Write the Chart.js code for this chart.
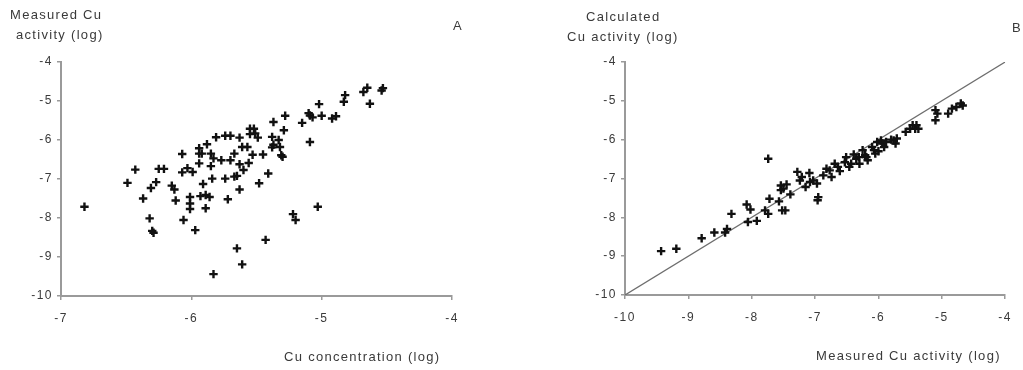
<!DOCTYPE html>
<html>
<head>
<meta charset="utf-8">
<script src="https://cdn.jsdelivr.net/npm/chart.js@4.4.1/dist/chart.umd.min.js"></script>
<style>
  body { margin: 0; background: #fff; width: 1023px; height: 370px; position: relative; overflow: hidden; }
  .panel { position: absolute; top: 0; height: 370px; }
  .lbl { position: absolute; font-family: "Liberation Sans", Arial, sans-serif; font-size: 13px; color: #3a3a3a; letter-spacing: 1.3px; white-space: nowrap; line-height: 1; }
</style>
</head>
<body>
<div class="panel" style="left:0; width:480px;"><canvas id="chartA" width="480" height="370"></canvas></div>
<div class="panel" style="left:520px; width:503px;"><canvas id="chartB" width="503" height="370"></canvas></div>

<div class="lbl" style="left:10px; top:8px;">Measured Cu</div>
<div class="lbl" style="left:16px; top:28px;">activity (log)</div>
<div class="lbl" style="left:453px; top:19px;">A</div>
<div class="lbl" style="left:284px; top:350px;">Cu concentration (log)</div>

<div class="lbl" style="left:586px; top:10px;">Calculated</div>
<div class="lbl" style="left:567px; top:30px;">Cu activity (log)</div>
<div class="lbl" style="left:1012px; top:21px;">B</div>
<div class="lbl" style="left:816px; top:349px;">Measured Cu activity (log)</div>

<script>
// Panel A: Cu concentration (log) vs measured Cu activity (log)
const concA = [
  -6.82, -6.49, -6.43, -6.37, -6.32, -6.30, -6.29, -6.31, -6.27, -6.25,
  -6.21, -6.15, -6.13, -6.12, -6.07, -6.07, -6.06, -6.03, -6.01, -6.01,
  -6.01, -5.99, -5.97, -5.94, -5.94, -5.92, -5.94, -5.93, -5.89, -5.91,
  -5.89, -5.88, -5.86, -5.85, -5.85, -5.83, -5.84, -5.83, -5.81, -5.77,
  -5.74, -5.74, -5.70, -5.72, -5.70, -5.67, -5.67, -5.65, -5.65, -5.63,
  -5.63, -5.63, -5.61, -5.61, -5.60, -5.57, -5.56, -5.55, -5.52, -5.55,
  -5.51, -5.53, -5.49, -5.48, -5.45, -5.43, -5.41, -5.38, -5.37, -5.37,
  -5.38, -5.33, -5.32, -5.31, -5.30, -5.29, -5.28, -5.22, -5.20, -5.15,
  -5.10, -5.09, -5.07, -5.09, -5.03, -5.02, -5.00, -4.92, -4.89, -4.83,
  -4.82, -4.68, -4.65, -4.63, -4.54, -4.53
];
const actA = [
  -7.71, -7.10, -6.76, -7.50, -8.01, -8.33, -8.38, -7.23, -7.08, -6.74,
  -6.74, -7.17, -7.27, -7.55, -6.36, -6.83, -8.05, -6.72, -7.46, -7.63,
  -7.77, -6.82, -8.31, -6.21, -6.35, -6.35, -6.60, -7.44, -7.41, -7.13,
  -7.75, -6.11, -7.46, -6.67, -6.35, -6.47, -6.99, -9.44, -5.93, -6.52,
  -6.99, -5.89, -5.89, -7.52, -6.52, -6.35, -6.94, -6.92, -8.78, -5.94,
  -6.62, -7.27, -6.18, -9.19, -6.77, -6.18, -6.59, -5.71, -5.71, -5.85,
  -5.83, -6.38, -5.94, -7.11, -6.37, -8.56, -6.86, -6.19, -6.12, -5.54,
  -5.92, -6.00, -6.18, -6.39, -6.43, -5.75, -5.38, -7.90, -8.05, -5.56,
  -5.31, -5.37, -5.42, -6.05, -7.71, -5.08, -5.38, -5.45, -5.39, -5.02,
  -4.85, -4.77, -4.66, -5.07, -4.73, -4.67
];

// Panel B: measured vs calculated Cu activity (log), with the 1:1 line
const measB = [
  -9.43, -9.19, -8.79, -8.59, -8.42, -8.39, -8.32, -8.08, -8.06, -8.02,
  -7.92, -7.79, -7.74, -7.72, -7.74, -7.57, -7.54, -7.54, -7.52, -7.47,
  -7.45, -7.39, -7.28, -7.24, -7.21, -7.15, -7.09, -7.08, -7.03, -6.97,
  -6.96, -6.95, -6.87, -6.82, -6.77, -6.74, -6.69, -6.64, -6.61, -6.53,
  -6.51, -6.46, -6.43, -6.39, -6.35, -6.31, -6.25, -6.21, -6.19, -6.17,
  -6.10, -6.07, -6.05, -6.02, -5.96, -5.94, -5.91, -5.88, -5.76, -5.73,
  -5.71, -5.57, -5.50, -5.46, -5.42, -5.40, -5.37, -5.10, -5.07, -5.10,
  -4.90, -4.84, -4.77, -4.70, -4.67, -7.50, -6.30, -6.00, -5.80
];
const calcB = [
  -8.87, -8.81, -8.54, -8.39, -8.39, -8.30, -7.91, -7.67, -8.12, -7.80,
  -8.09, -7.82, -6.49, -7.52, -7.91, -7.59, -7.30, -7.18, -7.82, -7.82,
  -7.15, -7.41, -6.83, -7.05, -6.96, -7.22, -6.86, -7.09, -7.05, -7.13,
  -7.56, -7.48, -6.92, -6.75, -6.79, -6.96, -6.62, -6.70, -6.81, -6.58,
  -6.45, -6.70, -6.62, -6.38, -6.49, -6.45, -6.27, -6.40, -6.45, -6.53,
  -6.19, -6.27, -6.36, -6.06, -6.02, -6.10, -6.19, -6.06, -6.02, -6.10,
  -5.97, -5.80, -5.72, -5.63, -5.72, -5.63, -5.72, -5.24, -5.33, -5.50,
  -5.33, -5.20, -5.16, -5.07, -5.12, -7.26, -6.62, -6.30, -6.00
];
const lineX = [-10, -4];
const lineY = [-10, -4];

const ticksA_x = [-7, -4];
const ticksA_y = [-10, -4];
const ticksB = [-10, -4];

const axisGrey = '#9a9a9a';
const tickFont = { family: '"Liberation Sans", Arial, sans-serif', size: 12 };

// widen tick label spacing a little (canvas letterSpacing)
const spacedText = {
  id: 'spacedText',
  beforeUpdate(chart) { chart.ctx.letterSpacing = '1.5px'; },
  beforeDraw(chart) { chart.ctx.letterSpacing = '1.5px'; }
};

function toPoints(xs, ys) {
  return xs.map((x, i) => ({ x: x, y: ys[i] }));
}

function axis(range, fixedSize, isX) {
  return {
    type: 'linear',
    min: range[0],
    max: range[1],
    border: { color: axisGrey, width: 2 },
    grid: { drawOnChartArea: false, color: axisGrey, lineWidth: 1.5, tickLength: 4 },
    ticks: {
      stepSize: 1,
      color: '#3a3a3a',
      font: tickFont,
      padding: isX ? 11 : 4,
      maxRotation: 0,
      autoSkip: false
    },
    afterFit: function(scale) {
      if (isX) scale.height = fixedSize; else scale.width = fixedSize;
    }
  };
}

const scatterStyle = {
  pointStyle: 'cross',
  pointRadius: 4.2,
  pointBorderWidth: 2.4,
  borderColor: '#111',
  backgroundColor: '#111',
  showLine: false
};

new Chart(document.getElementById('chartA'), {
  type: 'scatter',
  data: {
    datasets: [Object.assign({ data: toPoints(concA, actA) }, scatterStyle)]
  },
  options: {
    responsive: false,
    animation: false,
    layout: { padding: { left: 0, top: 62, right: 28, bottom: 0 } },
    plugins: { legend: { display: false }, tooltip: { enabled: false } },
    scales: {
      x: axis(ticksA_x, 74, true),
      y: axis(ticksA_y, 61, false)
    }
  },
  plugins: [spacedText]
});

new Chart(document.getElementById('chartB'), {
  type: 'scatter',
  data: {
    datasets: [
      Object.assign({ data: toPoints(measB, calcB) }, scatterStyle),
      {
        data: toPoints(lineX, lineY),
        showLine: true,
        borderColor: '#6e6e6e',
        borderWidth: 1.3,
        pointRadius: 0
      }
    ]
  },
  options: {
    responsive: false,
    animation: false,
    layout: { padding: { left: 0, top: 62, right: 11, bottom: 0 } },
    plugins: { legend: { display: false }, tooltip: { enabled: false } },
    scales: {
      x: axis(ticksB, 75, true),
      y: axis(ticksB, 105, false)
    }
  },
  plugins: [spacedText]
});
</script>
</body>
</html>
